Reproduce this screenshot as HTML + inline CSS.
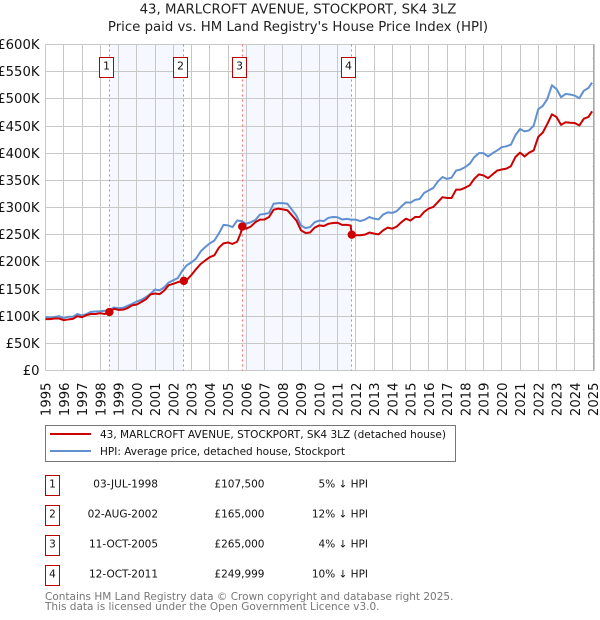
<!DOCTYPE html>
<html lang="en">
<head>
<meta charset="utf-8">
<title>43, Marlcroft Avenue price chart</title>
<style>
html,body{margin:0;padding:0;background:#fff;}
body{width:600px;height:620px;overflow:hidden;position:relative;font-family:"DejaVu Sans","Liberation Sans",sans-serif;}
svg{position:absolute;left:0;top:0;}
text{font-family:"DejaVu Sans","Liberation Sans",sans-serif;}
</style>
</head>
<body>
<svg id="chart" width="600" height="620" viewBox="0 0 600 620" xmlns="http://www.w3.org/2000/svg"></svg>
<script>
const yTickValues = [0,50,100,150,200,250,300,350,400,450,500,550,600];
const yTickLabels = ['£0','£50K','£100K','£150K','£200K','£250K','£300K','£350K','£400K','£450K','£500K','£550K','£600K'];
const minorYTickValues = [25,75,125,175,225,275,325,375,425,475,525,575];
const xTickYears = [1995,1996,1997,1998,1999,2000,2001,2002,2003,2004,2005,2006,2007,2008,2009,2010,2011,2012,2013,2014,2015,2016,2017,2018,2019,2020,2021,2022,2023,2024,2025];
const hpiDates = [1995,1995.25,1995.5,1995.75,1996,1996.25,1996.5,1996.75,1997,1997.25,1997.5,1997.75,1998,1998.25,1998.5,1998.75,1999,1999.25,1999.5,1999.75,2000,2000.25,2000.5,2000.75,2001,2001.25,2001.5,2001.75,2002,2002.25,2002.5,2002.75,2003,2003.25,2003.5,2003.75,2004,2004.25,2004.5,2004.75,2005,2005.25,2005.5,2005.75,2006,2006.25,2006.5,2006.75,2007,2007.25,2007.5,2007.75,2008,2008.25,2008.5,2008.75,2009,2009.25,2009.5,2009.75,2010,2010.25,2010.5,2010.75,2011,2011.25,2011.5,2011.75,2012,2012.25,2012.5,2012.75,2013,2013.25,2013.5,2013.75,2014,2014.25,2014.5,2014.75,2015,2015.25,2015.5,2015.75,2016,2016.25,2016.5,2016.75,2017,2017.25,2017.5,2017.75,2018,2018.25,2018.5,2018.75,2019,2019.25,2019.5,2019.75,2020,2020.25,2020.5,2020.75,2021,2021.25,2021.5,2021.75,2022,2022.25,2022.5,2022.75,2023,2023.25,2023.5,2023.75,2024,2024.25,2024.5,2024.75,2024.95];
const hpiValues = [97.9,97.5,98.5,100,96.5,99,99,104,101,104,108,108.6,109,110,111,116,114.5,115.5,119,122.5,127,130,135,141,149,147.5,153,162,166,170,184,194,199,206,219,227,234,239,252,268,267,264,276,275,270,273,277,287,288,290,307,308,308,307,296,285,267,262,264,273,276,275,281,282.5,282,278,279,277.6,277.6,275,277.6,282.5,279.5,278,287,291,290,293.5,302,309.5,309,314,315.6,327,331.6,336,348,356,352.5,355,368,370,374.5,380.7,393,400,400,394,400,405,411,412.6,415.6,433,444.5,440,442,450.6,481,487,500,525,518,503,509,508,506,501,515,520,530];
const priceDates = [1995,1995.25,1995.5,1995.75,1996,1996.25,1996.5,1996.75,1997,1997.25,1997.5,1997.75,1998,1998.25,1998.5,1998.75,1999,1999.25,1999.5,1999.75,2000,2000.25,2000.5,2000.75,2001,2001.25,2001.5,2001.75,2002,2002.25,2002.58,2002.75,2003,2003.25,2003.5,2003.75,2004,2004.25,2004.5,2004.75,2005,2005.25,2005.5,2005.7,2005.78,2006,2006.25,2006.5,2006.75,2007,2007.25,2007.5,2007.75,2008,2008.25,2008.5,2008.75,2009,2009.25,2009.5,2009.75,2010,2010.25,2010.5,2010.75,2011,2011.25,2011.5,2011.72,2011.78,2012,2012.25,2012.5,2012.75,2013,2013.25,2013.5,2013.75,2014,2014.25,2014.5,2014.75,2015,2015.25,2015.5,2015.75,2016,2016.25,2016.5,2016.75,2017,2017.25,2017.5,2017.75,2018,2018.25,2018.5,2018.75,2019,2019.25,2019.5,2019.75,2020,2020.25,2020.5,2020.75,2021,2021.25,2021.5,2021.75,2022,2022.25,2022.5,2022.75,2023,2023.25,2023.5,2023.75,2024,2024.25,2024.5,2024.75,2024.95];
const priceValues = [94.5,94.5,95.7,95.7,92.6,94,95,100,98,102,104,104,105.5,104,107.5,113.5,111.6,112,115,120,121.5,126,131,140,141.7,140.5,147,157,159.5,162.6,165,167,176,186.5,196,202.5,208.6,212,226,234,235.6,233,237,253,265,261,265,273,277.6,278,282.5,296,298,296.6,295,285.6,276,258,253,254,263,267,266,270,271.5,272,268,268,267,250,249,249,250,254,252,250.6,258,263,261,265,273,279.4,276,282.5,282.5,292,298,301,310,319,317.5,317.5,333,333,336.5,341,353,361,359,354,361,368,370,371.5,376,393,401,394,401,405,430,438,454,471.5,466.6,452,457,456,455.5,451,463.5,466.6,477];
const saleNumbers = ['1','2','3','4'];
const saleDates = [1998.5,2002.58,2005.78,2011.78];
const salePrices = [107.5,165,265,249.999];
const saleDateLabels = ['03-JUL-1998','02-AUG-2002','11-OCT-2005','12-OCT-2011'];
const salePriceLabels = ['£107,500','£165,000','£265,000','£249,999'];
const saleHpiLabels = ['5% ↓ HPI','12% ↓ HPI','4% ↓ HPI','10% ↓ HPI'];

const NS = 'http://www.w3.org/2000/svg';
const svg = document.getElementById('chart');
const plotLeft = 45.5, plotRight = 594.5, plotTop = 44.5, plotBottom = 370.5;
const RED = '#cc0000', BLUE = '#6090d0', GRID = '#c8c8c8';
function xScale(year){ return 45.5 + (year - 1995) * 18.25; }
function yScale(k){ return 370.5 - k * (326 / 600); }
function node(tag, attrs, text){
  const el = document.createElementNS(NS, tag);
  for (const k in attrs) el.setAttribute(k, attrs[k]);
  if (text !== undefined) el.textContent = text;
  svg.appendChild(el);
  return el;
}
function pathFor(xs, ys){
  return xs.map((d, i) => (i ? 'L' : 'M') + xScale(d).toFixed(2) + ' ' + yScale(ys[i]).toFixed(2)).join('');
}

// Title
let el = node('text', {x:298, y:13.5, 'text-anchor':'middle', 'font-size':13.3, fill:'#222'}, '43, MARLCROFT AVENUE, STOCKPORT, SK4 3LZ');


el = node('text', {x:298, y:31, 'text-anchor':'middle', 'font-size':13.3, fill:'#222'}, "Price paid vs. HM Land Registry's House Price Index (HPI)");



// Shaded periods
for (const pair of [[0,1],[2,3]]) {
  el = node('rect', {x:xScale(saleDates[pair[0]]), y:plotTop, width:xScale(saleDates[pair[1]])-xScale(saleDates[pair[0]]), height:plotBottom-plotTop, fill:'#f5f8ff'});
  
  
}

// Grid and axis labels
yTickValues.forEach((v, i) => {
  const y = Math.round(yScale(v) - 0.5) + 0.5;
  el = node('line', {x1:plotLeft, x2:plotRight, y1:y, y2:y, stroke:GRID, 'stroke-width':1});
  
  
  el = node('text', {x:39.5, y:y+4.5, 'text-anchor':'end', 'font-size':13.2, fill:'#111'}, yTickLabels[i]);
  
  
});
minorYTickValues.forEach((v) => {
  const y = Math.round(yScale(v) - 0.5) + 0.5;
  el = node('line', {x1:592.5, x2:plotRight, y1:y, y2:y, stroke:GRID, 'stroke-width':1});
  
  
});
xTickYears.forEach((yr) => {
  const x = Math.round(xScale(yr) - 0.5) + 0.5;
  el = node('line', {x1:x, x2:x, y1:plotTop, y2:plotBottom, stroke:yr === 2025 ? '#a8a8a8' : GRID, 'stroke-width':1});
  
  
  el = node('text', {transform:'translate(' + (xScale(yr)+5) + ',382.5) rotate(-90)', 'text-anchor':'end', 'font-size':13.2, fill:'#111'}, String(yr));
  
  
});
el = node('line', {x1:plotRight, x2:plotRight, y1:plotTop, y2:plotBottom, stroke:GRID, 'stroke-width':1});



// Sale date guide lines
saleDates.forEach((d) => {
  const x = Math.round(xScale(d) - 0.5) + 0.5;
  el = node('line', {x1:x, x2:x, y1:plotTop, y2:plotBottom, stroke:'#ff5a5a', 'stroke-width':1, 'stroke-dasharray':'2 3', opacity:0.85});
  
  
});

// Series
el = node('path', {d:pathFor(hpiDates, hpiValues), fill:'none', stroke:BLUE, 'stroke-width':2, 'stroke-linejoin':'round'});


el = node('path', {d:pathFor(priceDates, priceValues), fill:'none', stroke:RED, 'stroke-width':2, 'stroke-linejoin':'round'});



// Sale markers and number boxes
saleDates.forEach((d, i) => {
  el = node('circle', {cx:xScale(d), cy:yScale(salePrices[i]), r:4.2, fill:RED});
  
  
  const bx = Math.round(xScale(d) - 0.5) + 0.5 - 10;
  el = node('rect', {x:bx, y:57.5, width:14, height:20, fill:'#fff', stroke:'#bb0000', 'stroke-width':1});
  
  
  el = node('text', {x:bx+7, y:69.5, 'text-anchor':'middle', 'font-size':11, fill:'#111'}, saleNumbers[i]);
  
  
});

// Legend
el = node('rect', {x:45.5, y:425.5, width:410, height:36, fill:'#fff', stroke:'#777', 'stroke-width':1});


el = node('line', {x1:50, x2:91, y1:434, y2:434, stroke:RED, 'stroke-width':2});


el = node('text', {x:100, y:438, 'font-size':10.5, fill:'#111'}, '43, MARLCROFT AVENUE, STOCKPORT, SK4 3LZ (detached house)');


el = node('line', {x1:50, x2:91, y1:451, y2:451, stroke:BLUE, 'stroke-width':2});


el = node('text', {x:100, y:455, 'font-size':10.5, fill:'#111'}, 'HPI: Average price, detached house, Stockport');



// Sales table
saleNumbers.forEach((n, i) => {
  const top = 475.5 + i * 30;
  el = node('rect', {x:45.5, y:top, width:14, height:20, fill:'#fff', stroke:'#bb0000', 'stroke-width':1});
  
  
  el = node('text', {x:52.5, y:top+12, 'text-anchor':'middle', 'font-size':10.5, fill:'#111'}, n);
  
  
  el = node('text', {x:158, y:top+12, 'text-anchor':'end', 'font-size':10.5, fill:'#111'}, saleDateLabels[i]);
  
  
  el = node('text', {x:264.5, y:top+12, 'text-anchor':'end', 'font-size':10.5, fill:'#111'}, salePriceLabels[i]);
  
  
  el = node('text', {x:368, y:top+12, 'text-anchor':'end', 'font-size':10.5, fill:'#111'}, saleHpiLabels[i]);
  
  
});

// Footer
el = node('text', {x:45, y:600, 'font-size':10.5, fill:'#777'}, 'Contains HM Land Registry data © Crown copyright and database right 2025.');


el = node('text', {x:45, y:610, 'font-size':10.5, fill:'#777'}, 'This data is licensed under the Open Government Licence v3.0.');


</script>
</body>
</html>
